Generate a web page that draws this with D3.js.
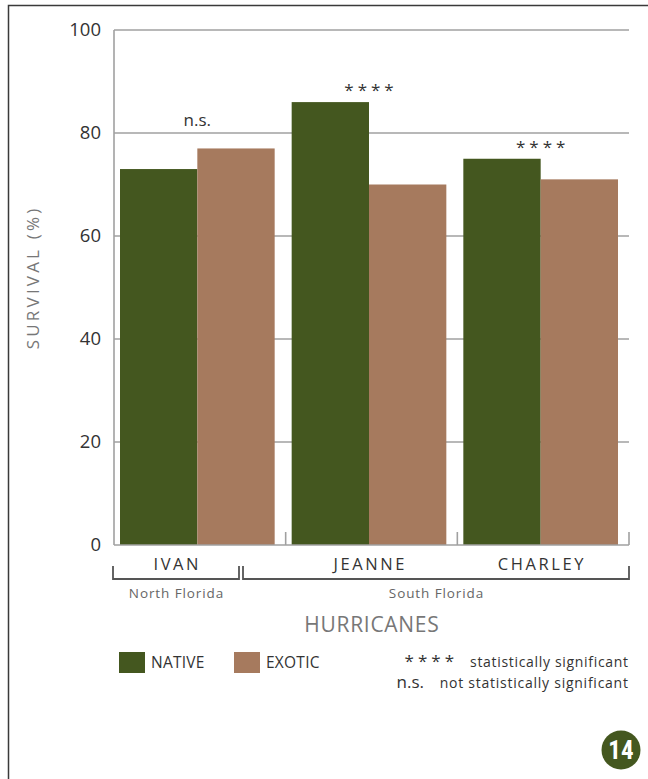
<!DOCTYPE html>
<html><head><meta charset="utf-8">
<script src="https://cdn.jsdelivr.net/npm/d3@7"></script>
<style>
html,body{margin:0;padding:0;background:#fff;}
svg{display:block;font-family:"Open Sans",sans-serif;}
</style></head>
<body><svg id="chart" width="648" height="779"></svg>
<script>
// ---- data ----
const categories = ["IVAN", "JEANNE", "CHARLEY"];
const seriesNames = ["NATIVE", "EXOTIC"];
const nativeValues = [73, 86, 75];
const exoticValues = [77, 70, 71];
const significance = ["n.s.", "****", "****"];
const yTicks = [0, 20, 40, 60, 80, 100];
const regions = ["North Florida", "South Florida"];
const colors = ["#44571f", "#a67a5e"];

const svg = d3.select("#chart");
const L = 114, R = 629, T = 30, B = 545;

const x = d3.scaleBand().domain(categories).range([L, R]).paddingInner(0).paddingOuter(0);
const y = d3.scaleLinear().domain([0, 100]).range([B, T]);
const inner = d3.scaleBand().domain(seriesNames).range([6, x.bandwidth() - 11]);

// page border
svg.append("path").attr("d", `M8.5,779 V5.5 H648`).attr("fill", "none").attr("stroke", "#3a3a3a").attr("stroke-width", 1.5);

// gridlines
const gridCol = "#a0a0a0";
svg.append("g").selectAll("line").data(yTicks.filter(d => d > 0)).join("line")
  .attr("x1", L).attr("x2", R).attr("y1", d => y(d)).attr("y2", d => y(d))
  .attr("stroke", gridCol).attr("stroke-width", 1.6);

// y tick labels
svg.append("g").selectAll("text").data(yTicks).join("text")
  .attr("x", 101).attr("y", d => y(d)).attr("dy", "0.33em").attr("text-anchor", "end")
  .attr("font-size", 18.5).attr("fill", "#333").text(d => d);

// bars
const data = categories.map((c, i) => ({ cat: c, vals: [nativeValues[i], exoticValues[i]] }));
const groups = svg.append("g").selectAll("g").data(data).join("g")
  .attr("transform", d => `translate(${x(d.cat)},0)`);
groups.selectAll("rect").data(d => d.vals.map((v, j) => ({ s: seriesNames[j], v, j }))).join("rect")
  .attr("x", d => inner(d.s)).attr("width", inner.bandwidth())
  .attr("y", d => y(d.v)).attr("height", d => y(0) - y(d.v))
  .attr("fill", d => colors[d.j]);

// axes frame: left axis, baseline, and group ticks
svg.append("line").attr("x1", L).attr("x2", L).attr("y1", T).attr("y2", B).attr("stroke", gridCol).attr("stroke-width", 1.6);
svg.append("line").attr("x1", L).attr("x2", R).attr("y1", B).attr("y2", B).attr("stroke", gridCol).attr("stroke-width", 1.6);
svg.append("g").selectAll("line").data(categories.slice(1).map(c => x(c)).concat([R])).join("line")
  .attr("x1", d => d).attr("x2", d => d).attr("y1", B - 13).attr("y2", B)
  .attr("stroke", gridCol).attr("stroke-width", 1.6);

// significance labels
svg.append("g").selectAll("text").data(data).join("text")
  .attr("x", d => x(d.cat) + inner("EXOTIC"))
  .attr("dx", (d, i) => significance[i] === "n.s." ? 0 : 2)
  .attr("y", (d, i) => y(Math.max(...d.vals)) - (significance[i] === "n.s." ? 22 : 6))
  .attr("text-anchor", "middle").attr("font-size", 17).attr("fill", "#333")
  .attr("letter-spacing", (d, i) => significance[i] === "n.s." ? 0 : 4)
  .text((d, i) => significance[i]);

// category labels
const bracketY = 579;
const brackets = [[113, 239], [243, 629]];
const catX = [ (brackets[0][0] + brackets[0][1]) / 2, x("JEANNE") + inner("EXOTIC"), x("CHARLEY") + inner("EXOTIC") ];
svg.append("g").selectAll("text").data(categories).join("text")
  .attr("x", (d, i) => catX[i]).attr("dx", 1.3).attr("y", 570).attr("text-anchor", "middle")
  .attr("font-size", 16.5).attr("fill", "#333").attr("letter-spacing", 2.6).text(d => d);

// region brackets
svg.append("g").selectAll("path").data(brackets).join("path")
  .attr("d", d => `M${d[0]},${bracketY - 13} V${bracketY} H${d[1]} V${bracketY - 13}`)
  .attr("fill", "none").attr("stroke", "#555").attr("stroke-width", 1.8);
svg.append("g").selectAll("text").data(regions).join("text")
  .attr("x", (d, i) => (brackets[i][0] + brackets[i][1]) / 2).attr("dx", 0.5).attr("y", 598)
  .attr("text-anchor", "middle").attr("font-size", 13.5).attr("fill", "#666").attr("letter-spacing", 0.9).text(d => d);

// axis titles
svg.append("text").attr("x", (L + R) / 2).attr("dx", 0.4).attr("y", 632).attr("text-anchor", "middle")
  .attr("font-size", 21).attr("fill", "#777").attr("letter-spacing", 0.7).text("HURRICANES");
svg.append("text").attr("transform", `translate(39,279) rotate(-90)`)
  .attr("dx", 1.6).attr("text-anchor", "middle").attr("font-size", 17).attr("fill", "#777").attr("letter-spacing", 3.2)
  .text("SURVIVAL (%)");

// legend
const lg = svg.append("g").selectAll("g").data(seriesNames).join("g")
  .attr("transform", (d, i) => `translate(${119 + i * 115},652)`);
lg.append("rect").attr("width", 26).attr("height", 21).attr("fill", (d, i) => colors[i]);
lg.append("text").attr("x", 32).attr("y", 16).attr("font-size", 15.5).attr("fill", "#333").attr("letter-spacing", 0.25).text(d => d);

const notes = [["****", "statistically significant"], ["n.s.", "not statistically significant"]];
const ng = svg.append("g").selectAll("g").data(notes).join("g")
  .attr("transform", (d, i) => `translate(0,${667 + i * 21})`);
ng.append("text").attr("x", (d, i) => i === 0 ? 458 : 424).attr("text-anchor", "end")
  .attr("font-size", 17).attr("letter-spacing", d => d[0] === "n.s." ? 0 : 4)
  .attr("fill", "#333").text(d => d[0]);
ng.append("text").attr("x", 628.7).attr("text-anchor", "end").attr("font-size", 14)
  .attr("letter-spacing", (d, i) => i === 0 ? 0.68 : 0.75).attr("fill", "#333").text(d => d[1]);

// page badge
svg.append("circle").attr("cx", 621).attr("cy", 750).attr("r", 19.5).attr("fill", "#44571f");
svg.append("text").attr("x", 621).attr("y", 750).attr("dy", "0.36em").attr("text-anchor", "middle")
  .attr("font-family", "'Roboto Condensed','Liberation Sans Narrow','DejaVu Sans Condensed',sans-serif")
  .attr("font-weight", "bold").attr("font-size", 25).attr("fill", "#fff").text("14");
</script></body></html>
